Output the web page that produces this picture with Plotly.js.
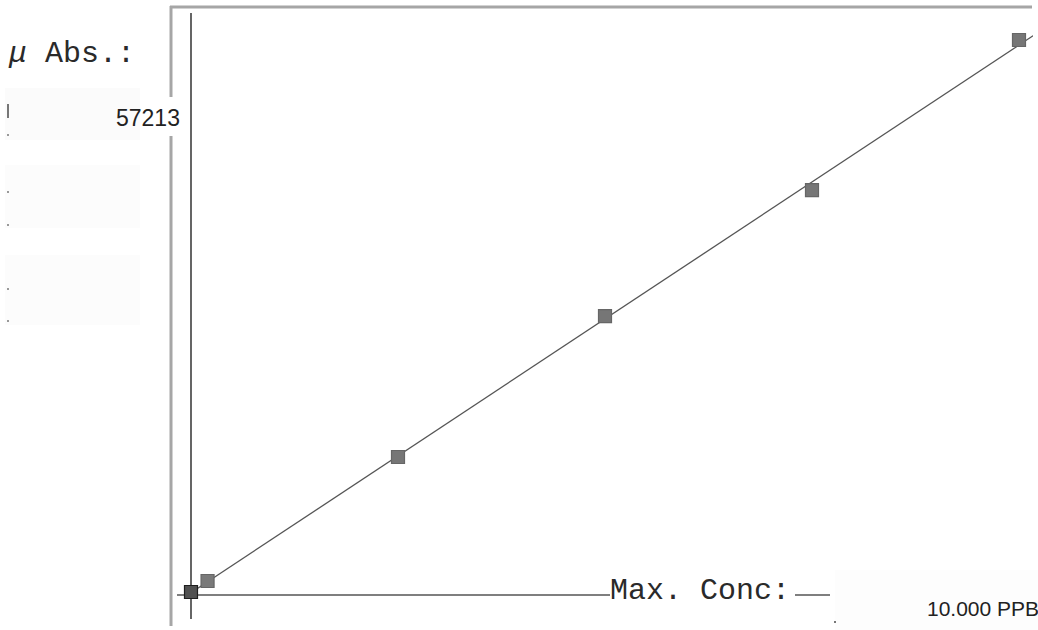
<!DOCTYPE html>
<html>
<head>
<meta charset="utf-8">
<script src="https://cdn.plot.ly/plotly-3.0.1.min.js"></script>
<style>html,body{margin:0;padding:0;background:#fff;}#chart{width:1038px;height:630px;}</style>
</head>
<body>
<div id="chart"></div>
<script>
// Calibration standards: concentration (PPB) and absorbance (µAbs)
const conc = [0, 0.2, 2.5, 5, 7.5, 10];
const absorb = [0, 1140, 13990, 28590, 41650, 57213];
const maxAbsLabel = "57213";
const maxConcLabel = "10.000 PPB";
const yLabel = "<i>μ</i> Abs.:";
const xLabel = "Max. Conc:";

// least-squares calibration line
const n = conc.length;
const mx = conc.reduce((a, b) => a + b, 0) / n;
const my = absorb.reduce((a, b) => a + b, 0) / n;
let sxy = 0, sxx = 0;
for (let i = 0; i < n; i++) { sxy += (conc[i] - mx) * (absorb[i] - my); sxx += (conc[i] - mx) ** 2; }
const slope = sxy / sxx, icpt = my - slope * mx;
const fitX = [0.05, 10.17];
const fitY = fitX.map(x => icpt + slope * x);

const W = 1038, H = 630, ML = 191, MR = 5, MT = 6, MB = 10;
const PW = W - ML - MR, PH = H - MT - MB;
const px = v => (v - ML) / PW;
const py = v => 1 - (v - MT) / PH;

function seg(x0, y0, x1, y1, color, width) {
  return {type: 'line', xref: 'paper', yref: 'paper', x0: px(x0), y0: py(y0), x1: px(x1), y1: py(y1),
          line: {color: color, width: width}, layer: 'below'};
}
function box(x0, y0, x1, y1, color) {
  return {type: 'rect', xref: 'paper', yref: 'paper', x0: px(x0), y0: py(y0), x1: px(x1), y1: py(y1),
          fillcolor: color, line: {width: 0}, layer: 'below'};
}

const shapes = [
  box(5, 88, 140, 140, '#fbfbfb'),
  box(5, 165, 140, 228, '#fcfcfc'),
  box(5, 255, 140, 325, '#fcfcfc'),
  box(835, 570, 1038, 630, '#fdfdfd'),
  // outer gray frame
  seg(170, 7, 1032, 7, '#a6a6a6', 3),
  seg(171, 6, 171, 97, '#a6a6a6', 3),
  seg(171, 136, 171, 626, '#a6a6a6', 3),
  // inner axes
  seg(191, 13, 191, 619, '#555555', 1.8),
  seg(177, 595, 610, 595, '#555555', 1.5),
  seg(795, 595, 830, 595, '#555555', 1.5),
  // scan specks
  box(7, 104, 9, 118, '#777'),
  box(7, 134, 9, 136, '#999'),
  box(7, 191, 9, 193, '#999'),
  box(7, 224, 9, 226, '#999'),
  box(7, 288, 9, 290, '#999'),
  box(7, 320, 9, 322, '#999'),
  box(834, 621, 836, 623, '#777')
];

const traces = [
  {x: fitX, y: fitY, mode: 'lines', line: {color: '#555555', width: 1.3}, hoverinfo: 'skip', cliponaxis: false},
  {x: conc, y: absorb, mode: 'markers', cliponaxis: false,
   marker: {symbol: 'square', size: 13,
            color: ['#505050', '#7a7a7a', '#767676', '#767676', '#767676', '#767676'],
            line: {color: ['#1e1e1e', '#666666', '#666666', '#666666', '#666666', '#666666'], width: 1.2}}}
];

const annotations = [
  {xref: 'paper', yref: 'paper', x: px(6), y: py(54), xanchor: 'left', yanchor: 'middle', showarrow: false,
   text: yLabel, font: {family: 'Liberation Mono, Courier New, monospace', size: 30, color: '#2a2a2a'}},
  {xref: 'paper', yref: 'paper', x: px(182), y: py(118), xanchor: 'right', yanchor: 'middle', showarrow: false,
   text: maxAbsLabel, font: {family: 'Liberation Sans Narrow, Arial Narrow, Liberation Sans, Arial, sans-serif', size: 23, color: '#222'}},
  {xref: 'paper', yref: 'paper', x: px(608), y: py(591), xanchor: 'left', yanchor: 'middle', showarrow: false,
   text: xLabel, font: {family: 'Liberation Mono, Courier New, monospace', size: 30, color: '#2a2a2a'}},
  {xref: 'paper', yref: 'paper', x: px(925), y: py(608), xanchor: 'left', yanchor: 'middle', showarrow: false,
   text: maxConcLabel, font: {family: 'Liberation Sans Narrow, Liberation Sans, Arial, sans-serif', size: 21, color: '#222'}}
];

const k = 57213 / 552;
const layout = {
  width: W, height: H,
  margin: {l: ML, r: MR, t: MT, b: MB, pad: 0},
  paper_bgcolor: '#ffffff', plot_bgcolor: 'rgba(0,0,0,0)',
  showlegend: false,
  xaxis: {range: [0, PW / 82.8], showgrid: false, zeroline: false, showline: false, showticklabels: false, ticks: '', fixedrange: true},
  yaxis: {range: [(592 - 620) * k, (592 - 6) * k], showgrid: false, zeroline: false, showline: false, showticklabels: false, ticks: '', fixedrange: true},
  shapes: shapes,
  annotations: annotations
};

Plotly.newPlot('chart', traces, layout, {displayModeBar: false, staticPlot: true});
</script>
</body>
</html>
